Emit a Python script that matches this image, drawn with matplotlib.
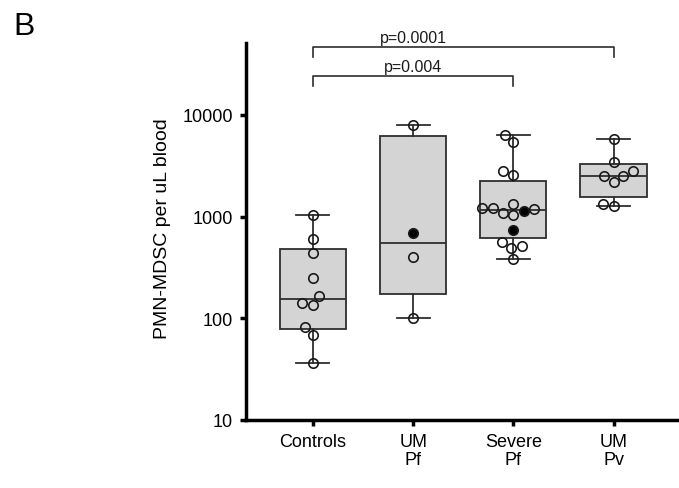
import numpy as np
import matplotlib
matplotlib.use("Agg")
import matplotlib.pyplot as plt
from matplotlib.ticker import NullLocator

plt.rcParams['font.family'] = ['Liberation Sans', 'DejaVu Sans']

# data (cells per uL blood)
groups = ["Controls", "UM\nPf", "Severe\nPf", "UM\nPv"]

controls = [1044, 602, 436, 249, 167, 135, 140, 81.5, 69, 36]
controls_filled = [False] * 10

um_pf = [7950, 690, 398, 100.7]
um_pf_filled = [False, True, False, False]

severe_pf = [6340, 5380, 2566, 2790, 1225, 1140, 1090, 1330, 1037, 1180,
             1215, 738, 566, 488, 517, 383]
severe_pf_filled = [False, False, False, False, False, True, False, False,
                    False, False, False, True, False, False, False, False]

um_pv = [5800, 3420, 2525, 2790, 2490, 2203, 1262, 1330]
um_pv_filled = [False] * 8

comparisons = [(0, 3, "p=0.0001"), (0, 2, "p=0.004")]

all_vals = [controls, um_pf, severe_pf, um_pv]
all_filled = [controls_filled, um_pf_filled, severe_pf_filled, um_pv_filled]


def box_stats(vals):
    v = np.asarray(vals, dtype=float)
    q1, med, q3 = np.percentile(v, [25, 50, 75], method='weibull')
    return dict(med=med, q1=q1, q3=q3, whislo=v.min(), whishi=v.max(), fliers=[])


def swarm_offsets(ypix, d):
    # simple beeswarm: place points bottom-up, nearest free slot to the centre
    order = np.argsort(ypix)
    placed = []
    xs = np.zeros(len(ypix))
    for i in order:
        y = ypix[i]
        cands = [0.0]
        for px, py in placed:
            dy = abs(py - y)
            if dy < d:
                dx = np.sqrt(d * d - dy * dy)
                cands += [px - dx, px + dx]
        cands.sort(key=abs)
        for c in cands:
            if all((c - px) ** 2 + (y - py) ** 2 >= d * d - 1e-6 for px, py in placed):
                xs[i] = c
                break
        placed.append((xs[i], y))
    return xs


fig = plt.figure(figsize=(6.79, 4.89), dpi=100)
ax = fig.add_axes([246 / 679, 68 / 489, 433 / 679, 377 / 489])

ax.set_yscale('log')
ax.set_ylim(10, 50900)
ax.set_xlim(-0.668, 3.653)

stats = [box_stats(v) for v in all_vals]
edge = '#2e2e2e'
ax.bxp(stats, positions=range(len(groups)), widths=0.66, capwidths=0.33,
       showfliers=False, patch_artist=True,
       boxprops=dict(facecolor='#d4d4d4', edgecolor=edge, linewidth=1.3),
       medianprops=dict(color=edge, linewidth=1.3),
       whiskerprops=dict(color=edge, linewidth=1.3),
       capprops=dict(color=edge, linewidth=1.3), zorder=2)

# points
fig.canvas.draw()
for i, (vals, filled) in enumerate(zip(all_vals, all_filled)):
    pix = ax.transData.transform(np.column_stack([np.full(len(vals), i), vals]))
    offs_px = swarm_offsets(pix[:, 1], 11.0)
    x0 = ax.transData.transform((i, 100))[0]
    x1 = ax.transData.transform((i + 1, 100))[0]
    xs = i + offs_px / (x1 - x0)
    for x, v, f in zip(xs, vals, filled):
        ax.plot(x, v, 'o', ms=6.8, mfc='black' if f else 'none', mec='#1a1a1a',
                mew=1.2, zorder=3)

# significance brackets
levels = [46200, 24000]
drops = [36900, 19100]
for (a, b, label), lev, drop in zip(comparisons, levels, drops):
    ax.plot([a, a, b, b], [drop, lev, lev, drop], color=edge, lw=1.2,
            clip_on=False, zorder=4)
    ax.annotate(label, xy=(1, lev), xytext=(0, 1.5), textcoords='offset points',
                ha='center', va='bottom', fontsize=11.5, color='#1a1a1a')

ax.set_xticks(range(len(groups)))
ax.set_xticklabels(groups, fontsize=13, linespacing=1.1)
ax.set_yticks([10, 100, 1000, 10000])
ax.set_yticklabels(["10", "100", "1000", "10000"], fontsize=13)
ax.yaxis.set_minor_locator(NullLocator())
ax.tick_params(axis='both', width=2.5, length=4.5, pad=5, color='black')

for s in ['top', 'right']:
    ax.spines[s].set_visible(False)
for s in ['left', 'bottom']:
    ax.spines[s].set_linewidth(2.5)

ax.set_ylabel("PMN-MDSC per uL blood", fontsize=14)
ax.yaxis.set_label_coords(-0.173, 0.51)

fig.text(13 / 679, 1 - 12 / 489, "B", fontsize=23, va='top', ha='left')

fig.savefig('out.png', dpi=100)
